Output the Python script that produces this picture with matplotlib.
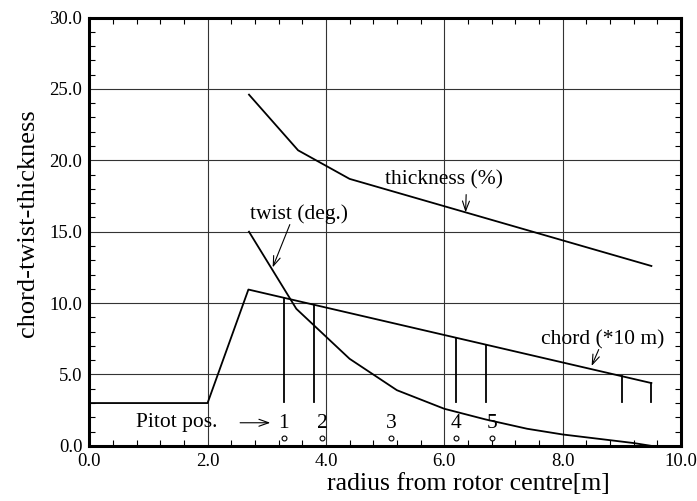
import matplotlib.pyplot as plt
from matplotlib.ticker import MultipleLocator

plt.rcParams['font.family'] = ['Liberation Serif', 'DejaVu Serif']

# radius [m] and values
thick_r = [2.7, 3.53, 4.4, 9.5]
thick_v = [24.6, 20.7, 18.7, 12.6]

twist_r = [2.7, 3.5, 4.4, 5.2, 6.0, 6.7, 7.4, 8.0, 9.2, 9.5]
twist_v = [15.0, 9.6, 6.1, 3.9, 2.6, 1.85, 1.2, 0.8, 0.2, 0.0]

chord_r = [0.0, 2.0, 2.69, 9.5]
chord_v = [3.0, 3.0, 10.95, 4.4]

# vertical marks hanging from the chord line
mark_r = [3.3, 3.8, 6.2, 6.7, 9.0, 9.5]
mark_base = 3.1

pitot_r = [3.29, 3.94, 5.10, 6.19, 6.80]
pitot_lbl = ['1', '2', '3', '4', '5']
pitot_y = 0.52


def chord_at(r):
    for i in range(len(chord_r) - 1):
        if chord_r[i] <= r <= chord_r[i + 1]:
            t = (r - chord_r[i]) / (chord_r[i + 1] - chord_r[i])
            return chord_v[i] + t * (chord_v[i + 1] - chord_v[i])
    return chord_v[-1]


fig = plt.figure(figsize=(6.97, 5.01), dpi=100)
ax = fig.add_axes([0.128, 0.110, 0.849, 0.855])

ax.plot(thick_r, thick_v, color='black', lw=1.3)
ax.plot(twist_r, twist_v, color='black', lw=1.3)
ax.plot(chord_r, chord_v, color='black', lw=1.3)
for r in mark_r:
    ax.plot([r, r], [mark_base, chord_at(r)], color='black', lw=1.3)

ax.plot(pitot_r, [pitot_y] * len(pitot_r), 'o', ms=3.5, mfc='white',
        mec='black', mew=0.8, ls='none')
for r, s in zip(pitot_r, pitot_lbl):
    ax.text(r, 1.6, s, ha='center', va='center', fontsize=15.5)

ax.text(2.16, 1.65, 'Pitot pos.', ha='right', va='center', fontsize=15.5)
arr = dict(arrowstyle='->,head_length=0.7,head_width=0.25', lw=0.8, color='black',
           shrinkA=0, shrinkB=0)
ax.annotate('', xy=(3.06, 1.62), xytext=(2.55, 1.62), arrowprops=arr)

ax.text(6.0, 18.6, 'thickness (%)', ha='center', va='center', fontsize=15.5)
ax.annotate('', xy=(6.36, 16.35), xytext=(6.37, 17.6), arrowprops=arr)

ax.text(3.54, 16.2, 'twist (deg.)', ha='center', va='center', fontsize=15.5)
ax.annotate('', xy=(3.10, 12.5), xytext=(3.39, 15.5), arrowprops=arr)

ax.text(8.67, 7.45, 'chord (*10 m)', ha='center', va='center', fontsize=15.5)
ax.annotate('', xy=(8.49, 5.6), xytext=(8.61, 6.75), arrowprops=arr)

ax.set_xlim(0, 10)
ax.set_ylim(0, 30)
ax.xaxis.set_major_locator(MultipleLocator(2))
ax.yaxis.set_major_locator(MultipleLocator(5))
ax.xaxis.set_minor_locator(MultipleLocator(0.4))
ax.yaxis.set_minor_locator(MultipleLocator(1))
ax.xaxis.set_major_formatter(lambda v, p: f'{v:.1f}')
ax.yaxis.set_major_formatter(lambda v, p: f'{v:.1f}')
ax.tick_params(which='major', length=0, labelsize=13.5, pad=5)
ax.tick_params(which='minor', direction='in', length=4, width=0.8,
               top=True, right=True)
ax.grid(True, which='major', color='#333333', lw=0.8)

for sp in ax.spines.values():
    sp.set_linewidth(2.2)

ax.set_xlabel('radius from rotor centre[m]', fontsize=18.5)
ax.set_ylabel('chord-twist-thickness', fontsize=19)
ax.xaxis.set_label_coords(0.64, -0.064)
ax.yaxis.set_label_coords(-0.085, 0.52)

fig.savefig('out.png', dpi=100)
